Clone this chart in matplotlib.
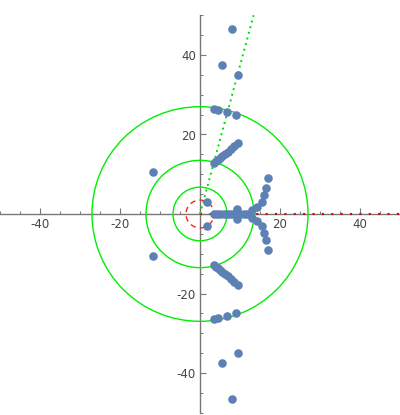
import numpy as np
import matplotlib
matplotlib.use("Agg")
from matplotlib import pyplot as plt
from matplotlib.patches import Circle
from matplotlib.ticker import MultipleLocator, FuncFormatter

plt.rcParams['axes.unicode_minus'] = False

# roots in the upper half plane (mirrored below), plus the real ones
upper_x = [8.1, 5.6, 9.6,
           3.5, 4.6, 6.7, 8.9,
           3.5, 4.0, 4.5, 5.0, 5.6, 6.2, 6.9, 7.7, 8.6, 9.6,
           1.7, -11.7,
           9.2, 13.0,
           14.2, 15.4, 16.1, 16.6, 17.1]
upper_y = [46.6, 37.4, 34.9,
           26.3, 26.1, 25.7, 25.0,
           12.9, 13.3, 13.7, 14.1, 14.6, 15.1, 15.7, 16.3, 17.0, 17.8,
           2.9, 10.5,
           1.2, 1.1,
           1.8, 2.9, 4.8, 6.6, 9.0]
real_x = [3.5, 4.3, 5.1, 5.9, 6.7, 7.5, 8.3, 9.1, 10.0, 10.9, 11.8]

green_radii = [27.0, 13.5, 6.75]
red_radius = 3.5
ray_angle = 75.0   # degrees, green dotted ray

pts_x = upper_x + upper_x + real_x
pts_y = upper_y + [-v for v in upper_y] + [0.0] * len(real_x)

fig = plt.figure(figsize=(4.0, 4.15), dpi=100)
ax = fig.add_axes([0.0, 2.25 / 415, 1.0, 397.5 / 415])
ax.set_xlim(-50, 50)
ax.set_ylim(-50, 50)

for r in green_radii:
    ax.add_patch(Circle((0, 0), r, fill=False, edgecolor='#00ee00', lw=1.0, zorder=2))
ax.add_patch(Circle((0, 0), red_radius, fill=False, edgecolor='#ff2020', lw=1.0,
                    linestyle=(0, (4, 3)), zorder=2))

# red dotted positive real axis
ax.plot([0, 50], [0, 0], color='#dd0000', lw=1.5, linestyle=(0, (1, 3.5)), zorder=3)
# green dotted ray
t = np.tan(np.radians(ray_angle))
ax.plot([0, 50 / t], [0, 50], color='#00dd00', lw=1.4, linestyle=(0, (1, 2)), zorder=3)

ax.scatter(pts_x, pts_y, s=38, color='#5e81b5', zorder=4, linewidths=0)

# mathematica-like axes crossing at origin
for side in ['top', 'right']:
    ax.spines[side].set_visible(False)
ax.spines['left'].set_position(('data', 0))
ax.spines['bottom'].set_position(('data', 0))
for side in ['left', 'bottom']:
    ax.spines[side].set_color('#777777')
    ax.spines[side].set_linewidth(1.0)
    ax.spines[side].set_zorder(1)

ax.xaxis.set_major_locator(MultipleLocator(20))
ax.xaxis.set_minor_locator(MultipleLocator(5))
ax.yaxis.set_major_locator(MultipleLocator(20))
ax.yaxis.set_minor_locator(MultipleLocator(5))
fmt = FuncFormatter(lambda v, p: '' if abs(v) < 1e-9 else '%d' % v)
ax.xaxis.set_major_formatter(fmt)
ax.yaxis.set_major_formatter(fmt)
ax.tick_params(which='major', direction='in', length=4.5, width=0.8, color='#777777',
               labelsize=8.5, labelcolor='#444444', pad=3)
ax.tick_params(which='minor', direction='in', length=2.5, width=0.7, color='#777777')
ax.patch.set_visible(False)

fig.savefig("out.png", dpi=100)
